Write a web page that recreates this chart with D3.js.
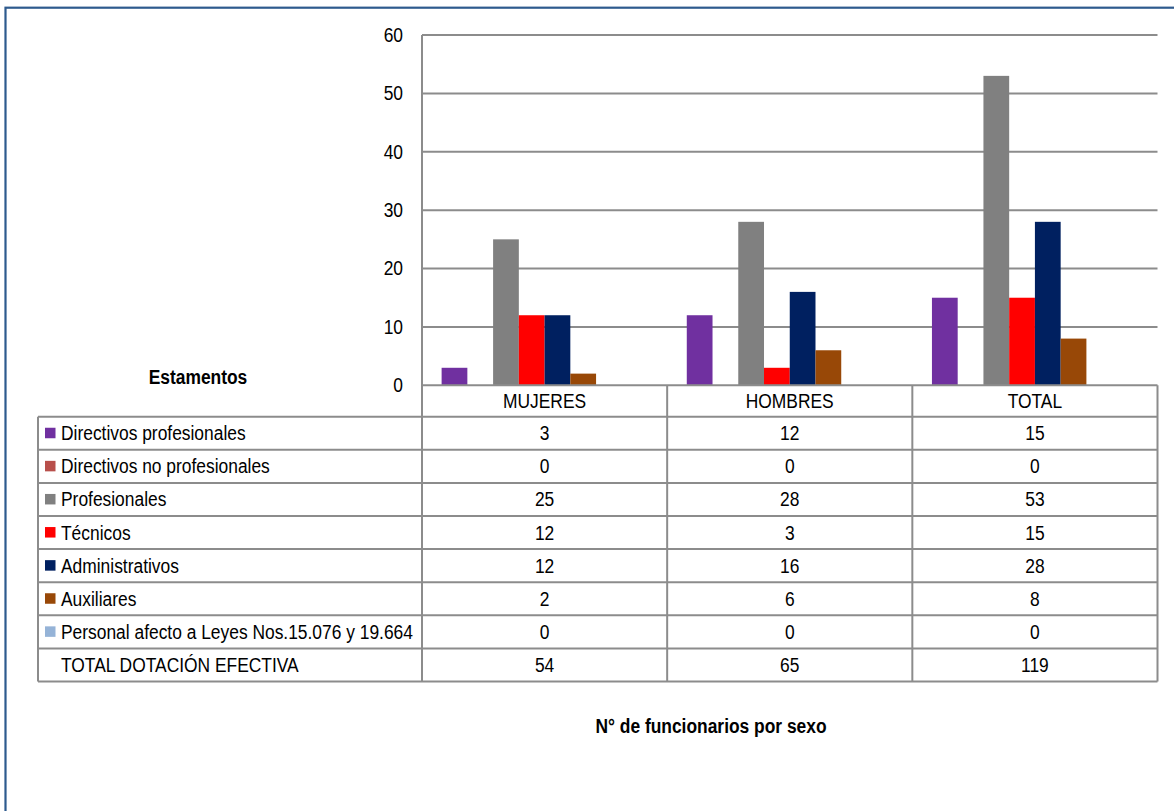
<!DOCTYPE html>
<html>
<head>
<meta charset="utf-8">
<script src="https://cdn.jsdelivr.net/npm/d3@7"></script>
<style>
  html, body { margin: 0; padding: 0; background: #fff; }
  svg { display: block; }
  text { font-family: "Liberation Sans", Arial, sans-serif; fill: #000; }
</style>
</head>
<body>
<svg id="chart" width="1174" height="811"></svg>
<script>
// ---- data ----
const categories = ["MUJERES", "HOMBRES", "TOTAL"];
const seriesNames = [
  "Directivos profesionales",
  "Directivos no profesionales",
  "Profesionales",
  "Técnicos",
  "Administrativos",
  "Auxiliares",
  "Personal afecto a Leyes Nos.15.076 y 19.664",
  "TOTAL DOTACIÓN EFECTIVA"
];
const seriesColors = ["#7030A0", "#B84F4B", "#808080", "#FF0000", "#002060", "#984807", "#95B3D7", null];
const valuesMujeres = [3, 0, 25, 12, 12, 2, 0, 54];
const valuesHombres = [12, 0, 28, 3, 16, 6, 0, 65];
const valuesTotal   = [15, 0, 53, 15, 28, 8, 0, 119];
const yTicks = [0, 10, 20, 30, 40, 50, 60];
const rowHeaderTitle = "Estamentos";
const chartTitle = "N° de funcionarios por sexo";

const valuesByCategory = [valuesMujeres, valuesHombres, valuesTotal];
const series = seriesNames.map((name, i) => ({
  name, color: seriesColors[i],
  values: categories.map((c, j) => valuesByCategory[j][i])
}));

// ---- layout ----
const svg = d3.select("#chart");
const plotLeft = 422, plotRight = 1157.5, plotTop = 35, plotBottom = 385.3;
const tableLeft = 38, rowH = 33.1;
const headerBottom = 416.7;
const gridColor = "#8C8C8C";
const fontSize = 20;
const SX = 0.87; // horizontal condensation to mimic a narrow face

// place condensed text at (x, y)
function narrowText(parent, x, y) {
  return parent.append("text")
    .attr("transform", `translate(${x},${y}) scale(${SX},1)`)
    .attr("font-size", fontSize);
}

// outer frame
svg.append("rect").attr("x", 5.5).attr("y", 7.7).attr("width", 1200).attr("height", 900)
  .attr("fill", "none").attr("stroke", "#2E5A8E").attr("stroke-width", 2.2);

const y = d3.scaleLinear().domain([0, 60]).range([plotBottom, plotTop]);
const x0 = d3.scaleBand().domain(categories).range([plotLeft, plotRight]).padding(0);
const gap = x0.bandwidth() * 0.08;
const x1 = d3.scaleBand().domain(seriesNames).range([gap, x0.bandwidth() - gap]).padding(0);

// gridlines
svg.append("g").selectAll("line").data(yTicks.filter(t => t > 0)).join("line")
  .attr("x1", plotLeft).attr("x2", plotRight)
  .attr("y1", d => y(d)).attr("y2", d => y(d))
  .attr("stroke", gridColor).attr("stroke-width", 2);

// y axis labels
const yAxis = d3.axisLeft(y).tickValues(yTicks).tickSize(0).tickPadding(19);
const ya = svg.append("g").attr("transform", `translate(${plotLeft},0)`).call(yAxis);
ya.select(".domain").remove();
ya.selectAll("text")
  .attr("font-size", fontSize)
  .attr("x", -19 / SX)
  .attr("transform", `scale(${SX},1)`)
  .style("font-family", '"Liberation Sans", Arial, sans-serif');

// bars
const groups = svg.append("g").selectAll("g").data(categories).join("g")
  .attr("transform", d => `translate(${x0(d)},0)`);
groups.selectAll("rect")
  .data((c, j) => series.filter(s => s.color).map(s => ({ s, v: s.values[j] })))
  .join("rect")
  .attr("x", d => x1(d.s.name))
  .attr("width", x1.bandwidth())
  .attr("y", d => y(d.v))
  .attr("height", d => y(0) - y(d.v))
  .attr("fill", d => d.s.color);

// table
const tableBottom = headerBottom + rowH * seriesNames.length;
const lines = svg.append("g").attr("stroke", gridColor).attr("stroke-width", 2);
lines.append("line").attr("x1", plotLeft).attr("x2", plotRight).attr("y1", plotBottom).attr("y2", plotBottom);
d3.range(seriesNames.length + 1).forEach(i => {
  const yy = headerBottom + i * rowH;
  lines.append("line").attr("x1", tableLeft).attr("x2", plotRight).attr("y1", yy).attr("y2", yy);
});
lines.append("line").attr("x1", tableLeft).attr("x2", tableLeft).attr("y1", headerBottom).attr("y2", tableBottom);
lines.append("line").attr("x1", plotLeft).attr("x2", plotLeft).attr("y1", plotTop).attr("y2", tableBottom);
categories.forEach(c => {
  const xx = x0(c) + x0.bandwidth();
  lines.append("line").attr("x1", xx).attr("x2", xx).attr("y1", plotBottom).attr("y2", tableBottom);
});

// header labels
const headG = svg.append("g");
categories.forEach(c => {
  narrowText(headG, x0(c) + x0.bandwidth() / 2, (plotBottom + headerBottom) / 2)
    .attr("dy", "0.35em").attr("text-anchor", "middle").text(c);
});

narrowText(svg, 198, 383.5).attr("text-anchor", "middle")
  .attr("font-weight", "bold").text(rowHeaderTitle);

// rows
series.forEach((s, i) => {
  const cy = headerBottom + i * rowH + rowH / 2;
  const g = svg.append("g");
  if (s.color) {
    g.append("rect").attr("x", 45).attr("y", cy - 5.5).attr("width", 10.5).attr("height", 10.5)
      .attr("fill", s.color);
  }
  narrowText(g, 61, cy).attr("dy", "0.35em").text(s.name);
  s.values.forEach((v, j) => {
    narrowText(g, x0(categories[j]) + x0.bandwidth() / 2, cy)
      .attr("dy", "0.35em").attr("text-anchor", "middle").text(v);
  });
});

// title
narrowText(svg, 711, 733).attr("text-anchor", "middle")
  .attr("font-weight", "bold").text(chartTitle);
</script>
</body>
</html>
